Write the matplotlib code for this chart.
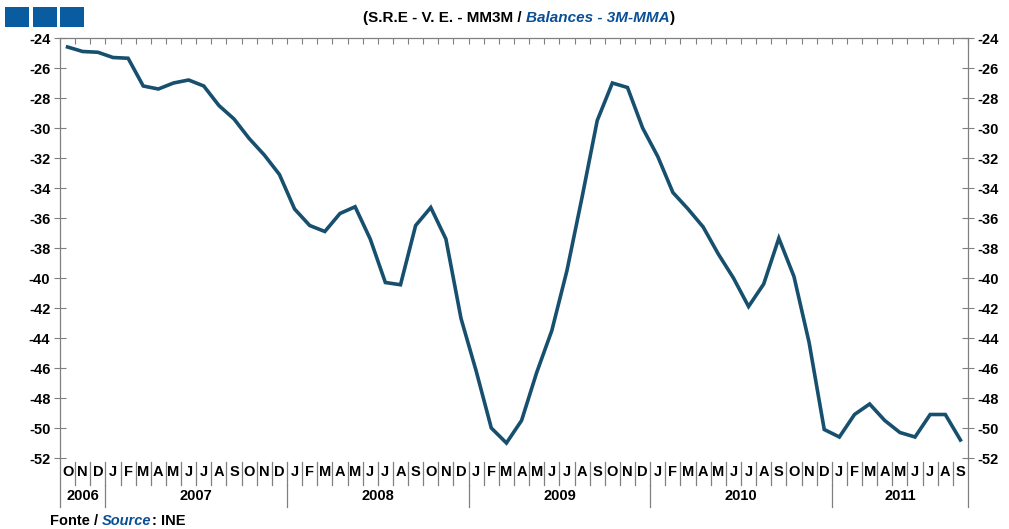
import matplotlib
matplotlib.use("Agg")
import matplotlib.pyplot as plt
import matplotlib.transforms as mtransforms
from matplotlib.patches import Rectangle
import numpy as np

plt.rcParams["font.family"] = ["Liberation Sans", "DejaVu Sans"]
plt.rcParams["font.weight"] = "bold"
plt.rcParams["axes.unicode_minus"] = False

# S.R.E - V.E. - MM3M, Out 2006 .. Set 2011
months = ["O", "N", "D"] + ["J", "F", "M", "A", "M", "J", "J", "A", "S", "O", "N", "D"] * 4 \
    + ["J", "F", "M", "A", "M", "J", "J", "A", "S"]
years = ["2006", "2007", "2008", "2009", "2010", "2011"]
year_len = [3, 12, 12, 12, 12, 9]
values = [
    -24.6, -24.9, -24.95,
    -25.3, -25.35, -27.2, -27.4, -27.0, -26.8, -27.2, -28.5, -29.4, -30.7, -31.8, -33.1,
    -35.4, -36.5, -36.9, -35.7, -35.25, -37.4, -40.3, -40.45, -36.5, -35.3, -37.4, -42.7,
    -46.2, -50.0, -51.0, -49.5, -46.3, -43.5, -39.5, -34.6, -29.5, -27.0, -27.3, -30.0,
    -31.9, -34.3, -35.4, -36.6, -38.4, -40.0, -41.9, -40.4, -37.35, -39.9, -44.3, -50.1,
    -50.6, -49.1, -48.4, -49.5, -50.3, -50.6, -49.1, -49.1, -50.8,
]

W, H = 1009, 529
fig = plt.figure(figsize=(W / 100, H / 100), dpi=100)
ax = fig.add_axes([60 / W, 1 - 458 / H, (968 - 60) / W, (458 - 38) / H])

x = np.arange(len(values))
ax.plot(x, values, color="#17506e", lw=2.6, solid_joinstyle="miter")

ax.set_xlim(-0.5, len(values) - 0.5)
ax.set_ylim(-52, -24)
ax.set_yticks(np.arange(-52, -23, 2))
ax.tick_params(axis="y", left=True, right=True, labelleft=True, labelright=True,
               direction="inout", length=8, width=0.8, color="#808080",
               labelsize=10.5, pad=3)
for lab in ax.get_yticklabels():
    lab.set_fontweight("bold")

# top axis with month ticks
ax.xaxis.tick_top()
ax.set_xticks(np.arange(len(values) + 1) - 0.5)
ax.tick_params(axis="x", direction="in", length=4, width=0.8, color="#808080",
               labeltop=False, labelbottom=False)

ax.spines["bottom"].set_visible(False)
for s in ["top", "left", "right"]:
    ax.spines[s].set_color("#808080")
    ax.spines[s].set_linewidth(0.9)

# extend left/right spines down through the labels
trans = mtransforms.blended_transform_factory(ax.transData, ax.transAxes)
y_px = lambda p: (458 - p) / (458 - 38)
for xe in [-0.5, len(values) - 0.5]:
    ax.plot([xe, xe], [0, y_px(507)], transform=trans, color="#808080", lw=0.9, clip_on=False)

# month labels and separators
for i, m in enumerate(months):
    ax.text(i, y_px(472), m, transform=trans, ha="center", va="center",
            fontsize=10.5, fontweight="bold")
    if i > 0:
        ax.plot([i - 0.5, i - 0.5], [y_px(462), y_px(485)], transform=trans,
                color="#808080", lw=0.9, clip_on=False)

# years
start = 0
for yr, n in zip(years, year_len):
    ax.text(start + (n - 1) / 2, y_px(496), yr, transform=trans, ha="center", va="center",
            fontsize=10.5, fontweight="bold")
    if start > 0:
        ax.plot([start - 0.5, start - 0.5], [y_px(485), y_px(507)], transform=trans,
                color="#808080", lw=0.9, clip_on=False)
    start += n

# logo squares
for x0 in [5, 33, 60]:
    fig.add_artist(Rectangle((x0 / W, 1 - 27 / H), 24 / W, 20 / H,
                             transform=fig.transFigure, color="#0a5ca0", lw=0))

blue = "#0a4f96"


def rich_text(parts, x0, y0, ha="left", size=9.5):
    fig.canvas.draw()
    r = fig.canvas.get_renderer()
    widths = []
    arts = []
    for txt, col, style in parts:
        t = fig.text(0, y0, txt, color=col, fontstyle=style, fontweight="bold",
                     fontsize=size, va="center", ha="left")
        widths.append(t.get_window_extent(r).width)
        arts.append(t)
    total = sum(widths)
    xs = x0 * W - (total / 2 if ha == "center" else 0)
    for t, w in zip(arts, widths):
        t.set_x(xs / W)
        xs += w


rich_text([("(S.R.E - V. E. - MM3M / ", "black", "normal"),
           ("Balances - 3M-MMA", blue, "italic"),
           (")", "black", "normal")], 519 / W, 1 - 18 / H, ha="center", size=11)
rich_text([("Fonte / ", "black", "normal"),
           ("Source", blue, "italic"),
           (": INE", "black", "normal")], 50 / W, 1 - 521 / H, size=10.5)

fig.savefig("out.png", dpi=100)
